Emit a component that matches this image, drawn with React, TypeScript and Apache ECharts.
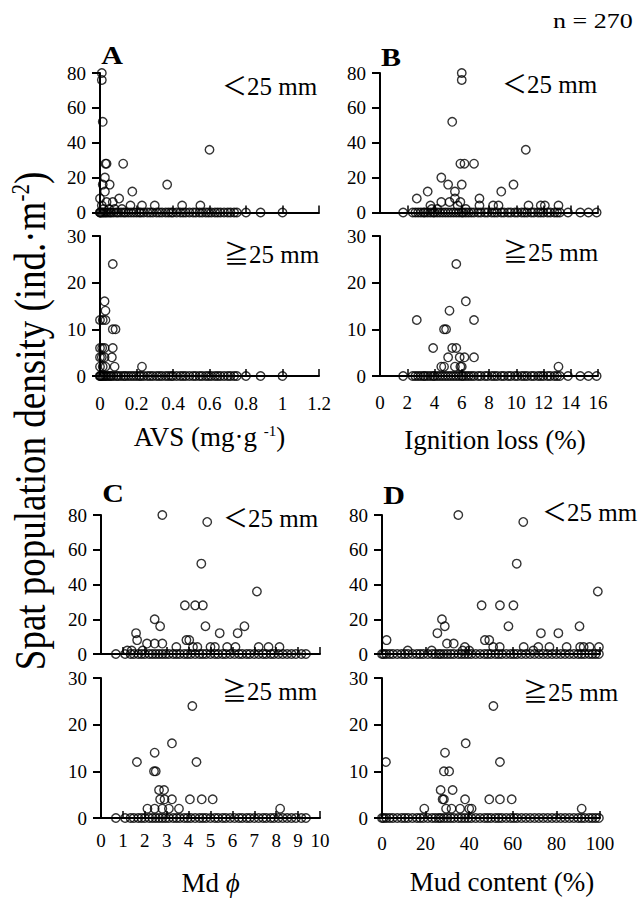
import React, { useEffect, useRef } from "react";
import * as echarts from "echarts";

const FONT = "Liberation Serif, Times New Roman, serif";
const CJK = "Liberation Serif, DejaVu Serif, Noto Sans CJK JP, serif";

// ---------- Panel A : AVS (mg/g) ----------
const avsZeroX = [0, 0, 0.005, 0.012, 0.02, 0.028, 0.035, 0.045, 0.055, 0.062, 0.075, 0.09, 0.1, 0.115, 0.13, 0.14, 0.155, 0.17, 0.185, 0.2, 0.215, 0.225, 0.24, 0.26, 0.275, 0.29, 0.31, 0.325, 0.34, 0.36, 0.375, 0.39, 0.4, 0.42, 0.44, 0.455, 0.47, 0.49, 0.51, 0.525, 0.545, 0.56, 0.58, 0.595, 0.61, 0.63, 0.645, 0.66, 0.68, 0.7, 0.715, 0.735, 0.75, 0.8, 0.88, 1.0];
const avsSmall = [[0.01, 80], [0.01, 76], [0.015, 52], [0.03, 28], [0.036, 28], [0.127, 28], [0.027, 20], [0.015, 16], [0.053, 16], [0.368, 16], [0.027, 12], [0.177, 12], [0, 8], [0.105, 8], [0.036, 6], [0.07, 6], [0.6, 36], [0.167, 4], [0.23, 4], [0.3, 4], [0.45, 4], [0.55, 4], [0.01, 4], [0.05, 2], [0.08, 2], [0.02, 2], [0.12, 2]];
const avsLarge = [[0.07, 24], [0.025, 16], [0.03, 14], [0, 12], [0.015, 12], [0.03, 12], [0.07, 10], [0.085, 10], [0, 6], [0.012, 6], [0.025, 6], [0.07, 6], [0, 4], [0.01, 4], [0.025, 4], [0.065, 4], [0, 2], [0.015, 2], [0.03, 2], [0.08, 2], [0.23, 2]];

// ---------- Panel B : Ignition loss (%) ----------
const ilZeroX = [1.7, 2.4, 2.6, 2.8, 3.0, 3.2, 3.3, 3.5, 3.7, 3.9, 4.0, 4.2, 4.4, 4.6, 4.8, 5.0, 5.2, 5.4, 5.6, 5.8, 6.0, 6.1, 6.3, 6.5, 6.7, 6.9, 7.2, 7.4, 7.7, 7.9, 8.2, 8.4, 8.6, 8.9, 9.1, 9.4, 9.6, 9.9, 10.1, 10.4, 10.6, 10.8, 11.1, 11.3, 11.6, 11.8, 12.0, 12.3, 12.5, 12.8, 13.0, 13.2, 13.8, 14.7, 15.3, 15.9];
const ilSmall = [[6.0, 80], [6.0, 76], [5.3, 52], [10.7, 36], [5.9, 28], [6.2, 28], [6.9, 28], [4.5, 20], [5.0, 16], [6.0, 16], [9.8, 16], [3.5, 12], [5.5, 12], [8.9, 12], [2.7, 8], [5.5, 8], [7.3, 8], [4.5, 6], [5.1, 6], [5.9, 6], [3.7, 4], [5.7, 4], [7.3, 4], [8.3, 4], [8.7, 4], [10.9, 4], [11.8, 4], [12.1, 4], [13.1, 4], [3.8, 2], [4.2, 2], [6.3, 2]];
const ilLarge = [[5.6, 24], [6.3, 16], [5.1, 14], [2.7, 12], [6.9, 12], [4.7, 10], [4.85, 10], [3.9, 6], [5.3, 6], [5.6, 6], [5.0, 4], [5.85, 4], [6.2, 4], [6.9, 4], [4.5, 2], [4.7, 2], [5.5, 2], [5.9, 2], [6.0, 2], [13.1, 2]];

// ---------- Panel C : Md phi ----------
const mdZeroX = [0.68, 1.1, 1.35, 1.5, 1.7, 1.85, 2.0, 2.2, 2.35, 2.5, 2.65, 2.8, 2.95, 3.1, 3.3, 3.45, 3.6, 3.8, 3.95, 4.1, 4.3, 4.5, 4.65, 4.8, 5.0, 5.2, 5.35, 5.55, 5.7, 5.9, 6.1, 6.3, 6.45, 6.65, 6.8, 7.0, 7.2, 7.4, 7.55, 7.75, 7.9, 8.1, 8.3, 8.5, 8.7, 8.9, 9.15, 9.36];
const mdSmall = [[1.6, 12], [1.65, 8], [2.1, 6], [2.45, 20], [2.45, 6], [2.7, 16], [2.8, 80], [2.8, 6], [3.44, 4], [3.83, 28], [3.9, 8], [4.03, 8], [4.3, 28], [4.65, 28], [4.2, 4], [4.4, 4], [4.58, 52], [4.77, 16], [4.85, 76], [5.0, 4], [5.2, 4], [5.42, 12], [5.76, 4], [6.14, 4], [6.24, 12], [6.55, 16], [7.12, 36], [7.2, 4], [7.65, 4], [8.15, 4], [1.2, 2], [1.4, 2], [1.9, 2]];
const mdLarge = [[1.64, 12], [2.12, 2], [2.45, 14], [2.42, 10], [2.5, 10], [2.45, 2], [2.65, 6], [2.88, 6], [2.7, 4], [2.9, 4], [2.8, 2], [3.1, 2], [3.24, 16], [3.24, 4], [3.56, 2], [4.06, 4], [4.17, 24], [4.36, 12], [4.6, 4], [5.1, 4], [8.18, 2]];

// ---------- Panel D : Mud content (%) ----------
const mudZeroX = [0, 0.8, 2, 3.5, 5, 7, 9, 10.5, 12, 14, 16, 17.5, 19, 21, 23, 24.5, 26, 27, 28.5, 30, 31.5, 33, 35, 36.5, 38, 39.5, 41, 43, 45, 47, 48.5, 50, 52, 53.5, 55, 57, 59, 60.5, 62, 64, 66, 68, 70, 72, 74, 76, 78, 80, 82, 84, 86, 88, 90, 91.5, 93, 95, 96.5, 98, 99.5];
const mudSmall = [[2.1, 8], [11.8, 2], [22.8, 2], [25.4, 12], [27.5, 20], [28.8, 16], [29.8, 6], [32.9, 6], [35, 80], [38, 4], [37, 2], [40, 2], [45.7, 28], [47.2, 8], [49.2, 8], [51, 4], [54.1, 28], [54, 4], [58, 16], [60.3, 28], [61.8, 52], [64.8, 76], [65, 4], [69.4, 2], [71.7, 4], [72.9, 12], [76.8, 4], [80.9, 12], [84.7, 4], [90.6, 16], [90.9, 4], [92.5, 4], [95.2, 4], [99, 36], [99.5, 4]];
const mudLarge = [[1.8, 12], [19.4, 2], [26.9, 6], [27.8, 4], [28.4, 4], [28.9, 14], [28.4, 10], [30.8, 10], [29.4, 2], [32.4, 6], [31.9, 2], [35.8, 2], [38.4, 16], [38.1, 4], [40, 2], [41.1, 2], [49.2, 4], [51.1, 24], [54.1, 12], [54.1, 4], [59.5, 4], [91.6, 2]];

// ---------- axis settings ----------
const yTopMax = 80;
const yTopInterval = 20;
const yBotMax = 30;
const yBotInterval = 10;

const panelLetters = ["A", "B", "C", "D"];
const xMaxes = [1.2, 16, 10, 100];
const xIntervals = [0.2, 2, 1, 20];
const xNames = ["AVS (mg·g {s|-1})", "Ignition loss (%)", "Md {i|ϕ}", "Mud content (%)"];
const sizeSmall = "＜25 mm";
const sizeLarge = "≧25 mm";
const sampleLabel = "n = 270";
const yTitle = "{a|Spat population density (ind.·m}{s|-2}{a|)}";

const zerosList = [avsZeroX, ilZeroX, mdZeroX, mudZeroX];
const smallList = [avsSmall, ilSmall, mdSmall, mudSmall];
const largeList = [avsLarge, ilLarge, mdLarge, mudLarge];

// layout (pixels)
const layout = [
  { left: 100, width: 219, topT: 73, hT: 139.5, topB: 236, hB: 140, margin: 18, gap: 47, pad: 0 },
  { left: 380, width: 218, topT: 73, hT: 139.5, topB: 236, hB: 140, margin: 17, gap: 50, pad: 12 },
  { left: 101, width: 219, topT: 515, hT: 139, topB: 678, hB: 140, margin: 13, gap: 51, pad: 0 },
  { left: 382, width: 218, topT: 515, hT: 139, topB: 678, hB: 140, margin: 16, gap: 50, pad: 22 },
];
const letterPos = [[112, 55], [391, 57], [113, 493], [394, 495]];
const smallTextPos = [[222, 86], [502, 84], [223, 518], [542, 512]];
const largeTextPos = [[224, 254], [503, 252], [222, 691], [523, 692]];

export default function App() {
  const ref = useRef<HTMLDivElement>(null);
  useEffect(() => {
    const chart = echarts.init(ref.current!, null, { renderer: "svg" });
    const grids: any[] = [];
    const xAxes: any[] = [];
    const yAxes: any[] = [];
    const series: any[] = [];
    const axisLine = { show: true, onZero: false, lineStyle: { color: "#000", width: 2 } };
    const labelStyle = { color: "#000", fontFamily: FONT, fontSize: 19 };

    layout.forEach((L, p) => {
      [0, 1].forEach((row) => {
        const idx = grids.length;
        grids.push({
          left: L.left,
          width: L.width,
          top: row === 0 ? L.topT : L.topB,
          height: row === 0 ? L.hT : L.hB,
          containLabel: false,
          outerBoundsMode: "none",
        });
        xAxes.push({
          type: "value",
          gridIndex: idx,
          min: 0,
          max: xMaxes[p],
          interval: xIntervals[p],
          axisLine,
          axisTick: { show: true, inside: true, length: 7, lineStyle: { color: "#000", width: 1.5 } },
          splitLine: { show: false },
          axisLabel: row === 0 ? { show: false } : { show: true, margin: L.margin, ...labelStyle },
          name: row === 0 ? "" : xNames[p],
          nameLocation: "middle",
          nameGap: L.gap,
          nameTextStyle: {
            color: "#000",
            fontFamily: FONT,
            fontSize: 27,
            padding: [0, 0, 0, L.pad],
            rich: {
              s: { fontSize: 15, fontFamily: FONT, color: "#000", verticalAlign: "top", padding: [0, 0, 8, 0] },
              i: { fontSize: 27, fontFamily: FONT, fontStyle: "italic", color: "#000" },
            },
          },
        });
        yAxes.push({
          type: "value",
          gridIndex: idx,
          min: 0,
          max: row === 0 ? yTopMax : yBotMax,
          interval: row === 0 ? yTopInterval : yBotInterval,
          axisLine,
          axisTick: { show: true, inside: false, length: 8, lineStyle: { color: "#000", width: 2 } },
          splitLine: { show: false },
          axisLabel: { show: true, margin: 14, ...labelStyle },
        });
        const pts = row === 0 ? smallList[p] : largeList[p];
        const data = zerosList[p].map((x) => [x, 0]).concat(pts);
        series.push({
          type: "scatter",
          xAxisIndex: idx,
          yAxisIndex: idx,
          data,
          symbol: "circle",
          symbolSize: 8.5,
          silent: true,
          itemStyle: { color: "rgba(255,255,255,0)", borderColor: "#000", borderWidth: 1.4 },
          emphasis: { disabled: true },
        });
      });
    });

    const graphic: any[] = [];
    panelLetters.forEach((t, i) => {
      graphic.push({
        type: "text",
        x: letterPos[i][0],
        y: letterPos[i][1],
        scaleX: 1.2,
        style: {
          text: t,
          fontFamily: FONT,
          fontSize: 25,
          fontWeight: "bold",
          fill: "#000",
          align: "center",
          verticalAlign: "middle",
          textAlign: "center",
          textVerticalAlign: "middle",
        },
      });
      [
        [sizeSmall, smallTextPos[i]],
        [sizeLarge, largeTextPos[i]],
      ].forEach(([txt, pos]: any) => {
        graphic.push({
          type: "text",
          x: pos[0],
          y: pos[1],
          style: {
            text: txt,
            fontFamily: CJK,
            fontSize: 25,
            fill: "#000",
            align: "left",
            verticalAlign: "middle",
            textAlign: "left",
            textVerticalAlign: "middle",
          },
        });
      });
    });
    graphic.push({
      type: "text",
      x: 553,
      y: 21,
      scaleX: 1.3,
      style: {
        text: sampleLabel,
        fontFamily: FONT,
        fontSize: 20,
        fill: "#000",
        align: "left",
        verticalAlign: "middle",
        textAlign: "left",
        textVerticalAlign: "middle",
      },
    });
    graphic.push({
      type: "text",
      x: 30,
      y: 421,
      rotation: Math.PI / 2,
      scaleY: 1.2,
      style: {
        text: yTitle,
        fill: "#000",
        fontFamily: FONT,
        fontSize: 37,
        align: "center",
        verticalAlign: "middle",
        textAlign: "center",
        textVerticalAlign: "middle",
        rich: {
          a: { fontFamily: FONT, fontSize: 37, fill: "#000" },
          s: { fontFamily: FONT, fontSize: 21, fill: "#000", verticalAlign: "top" },
        },
      },
    });

    chart.setOption({
      animation: false,
      backgroundColor: "#fff",
      textStyle: { fontFamily: FONT, color: "#000" },
      grid: grids,
      xAxis: xAxes,
      yAxis: yAxes,
      series,
      graphic,
    });
    return () => chart.dispose();
  }, []);
  return (
    <div
      ref={ref}
      style={{ position: "absolute", left: 0, top: 0, width: 641, height: 903, background: "#fff" }}
    />
  );
}
